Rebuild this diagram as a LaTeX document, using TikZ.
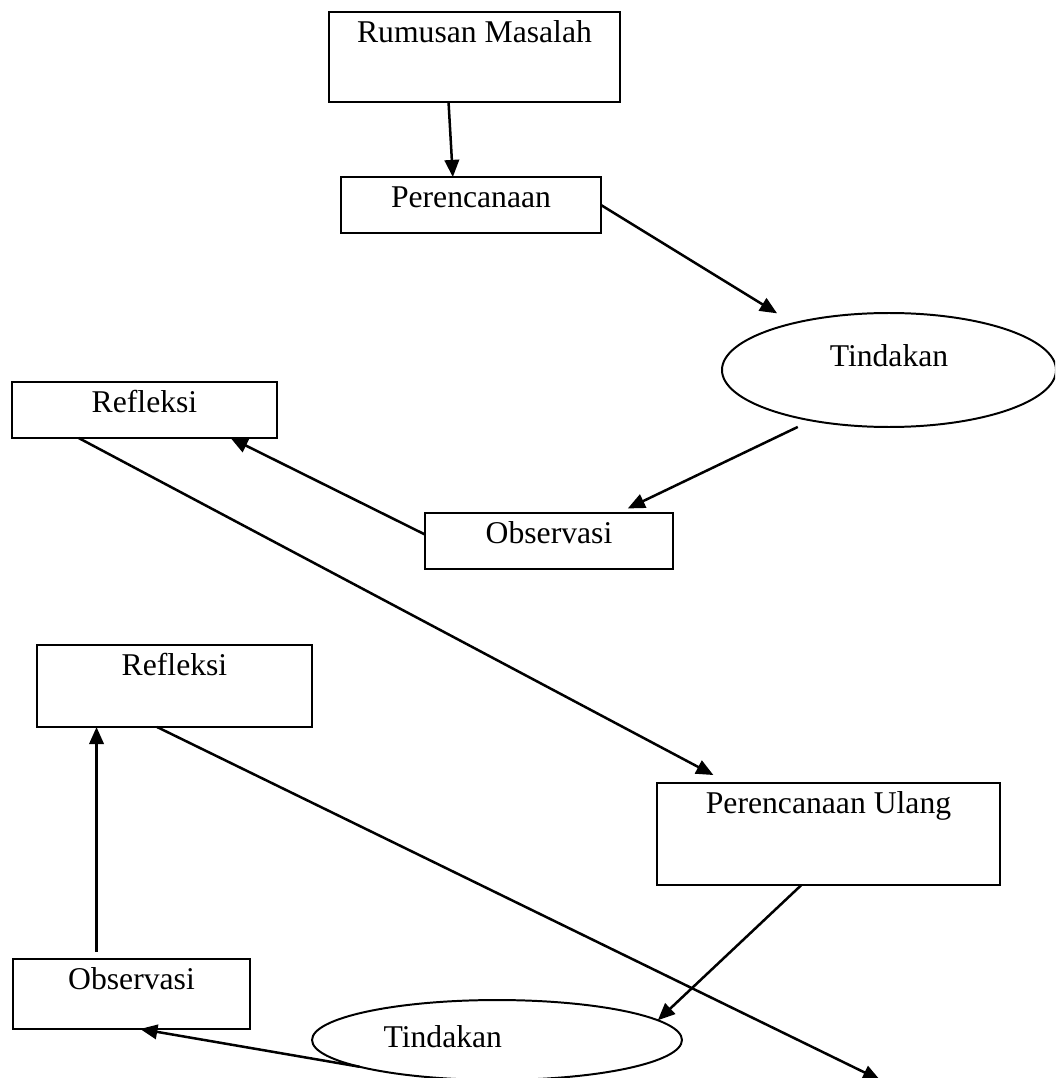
\documentclass[tikz,border=0pt]{standalone}
\usepackage{fontspec}
\setmainfont{Liberation Serif}
\usetikzlibrary{arrows.meta, shapes.geometric}

\begin{document}
\begin{tikzpicture}[x=0.379pt, y=-0.379pt,
    kotak/.style={draw, rectangle, line width=0.9pt, inner sep=0pt, outer sep=0pt,
        text height=11.5pt, font=\fontsize{12pt}{14pt}\selectfont},
    elips/.style={draw, ellipse, line width=0.75pt, inner sep=0pt, outer sep=0pt,
        text height=11.5pt, font=\fontsize{12pt}{14pt}\selectfont},
    panah/.style={line width=0.95pt, -{Triangle[length=6.5pt, width=5.5pt]}}]

    \useasboundingbox (0,0) rectangle (1055,1078);
    \clip (0,0) rectangle (1055,1078);

    % siklus I
    \node[kotak, minimum width=110.3pt, text depth=22.6pt] (rumusan) at (474.5,57) {Rumusan Masalah};
    \node[kotak, minimum width=98.5pt, text depth=9.7pt] (renc) at (471,205) {Perencanaan};
    \node[elips, minimum width=126.6pt, minimum height=43.2pt, text depth=13.8pt] (tind1) at (889,370) {Tindakan};
    \node[kotak, minimum width=94pt, text depth=9.7pt] (obs1) at (549,541) {Observasi};
    \node[kotak, minimum width=100.4pt, text depth=9.7pt] (refl1) at (144.5,410) {Refleksi};

    % siklus II
    \node[kotak, minimum width=130pt, text depth=27.2pt] (ulang) at (828.5,834) {Perencanaan Ulang};
    \node[elips, minimum width=140.2pt, minimum height=30.3pt, text depth=5.5pt,
        text width=86pt, align=left] (tind2) at (497,1040) {Tindakan};
    \node[kotak, minimum width=89.8pt, text depth=15pt] (obs2) at (131.5,994) {Observasi};
    \node[kotak, minimum width=104.2pt, text depth=19.6pt] (refl2) at (174.5,686) {Refleksi};
    \coordinate (ujung) at (880,1080);

    \draw[panah] (rumusan.-120) -- (renc.123);
    \draw[panah, shorten >=7.2pt] (renc.east) -- (tind1.154);
    \draw[panah, shorten <=5.7pt, shorten >=4pt] (tind1.213) -- (obs1.22);
    \draw[panah] (obs1.177) -- (refl1.-18);
    \draw[panah, shorten >=6.4pt] (refl1.203) -- (ulang.153);

    \draw[panah] (ulang.242) -- (tind2.7);
    \draw[panah] (tind2.191) -- (obs2.-76);
    \draw[panah, shorten <=2.7pt] (obs2.135) -- (obs2.135 |- refl2.south);
    \draw[panah] (refl2.247) -- (ujung);

\end{tikzpicture}
\end{document}
